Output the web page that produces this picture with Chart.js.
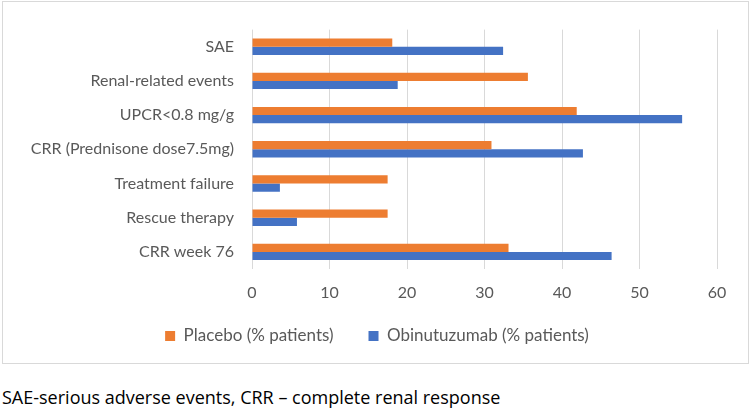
<!DOCTYPE html>
<html>
<head>
<meta charset="utf-8">
<script src="https://cdn.jsdelivr.net/npm/chart.js@4.4.0/dist/chart.umd.min.js"></script>
<style>
  body { margin: 0; background: #fff; width: 751px; height: 409px; position: relative; overflow: hidden; }
  #box { position: absolute; left: 2px; top: 1px; width: 745px; height: 361px; border: 1px solid #d9d9d9; }
  #box canvas { position: absolute; left: 0; top: 0; }
  #note { position: absolute; left: 2px; top: 385px; font-family: "Open Sans", sans-serif; font-size: 18px; color: #000; white-space: nowrap; }
</style>
</head>
<body>
<div id="box"><canvas id="effChart" width="745" height="376"></canvas></div>
<div id="note">SAE-serious adverse events, CRR – complete renal response</div>
<script>
const outcomes = ['SAE', 'Renal-related events', 'UPCR<0.8 mg/g', 'CRR (Prednisone dose7.5mg)', 'Treatment failure', 'Rescue therapy', 'CRR week 76'];
const placebo = [18.1, 35.6, 41.9, 30.9, 17.5, 17.5, 33.1];
const obinutuzumab = [32.4, 18.8, 55.5, 42.7, 3.6, 5.8, 46.4];
const xTicks = [0, 10, 20, 30, 40, 50, 60];

const textFont = { family: 'Lato', size: 16 };
const legendFont = { family: 'Lato', size: 17 };
const grey = '#595959';

// legend padding also sets the gap between items, so move the box up a bit
// and centre it on the whole frame rather than on the padded area
const legendNudge = {
    id: 'legendNudge',
    afterLayout(chart) {
        chart.legend.top -= 23.5;
        chart.legend.bottom -= 23.5;
        chart.legend.left += 17;
        chart.legend.right += 17;
    }
};

const effData = {
    labels: outcomes,
    datasets: [{
        label: 'Placebo (% patients)',
        data: placebo,
        backgroundColor: '#ED7D31',
        barPercentage: 1,
        categoryPercentage: 0.48,
    }, {
        label: 'Obinutuzumab (% patients)',
        data: obinutuzumab,
        backgroundColor: '#4472C4',
        barPercentage: 1,
        categoryPercentage: 0.48,
    }]
};

const effConfig = {
    type: 'bar',
    data: effData,
    plugins: [legendNudge],
    options: {
        indexAxis: 'y',
        responsive: false,
        animation: false,
        layout: {
            padding: { top: 25, right: 31, bottom: 0, left: 0 }
        },
        scales: {
            x: {
                min: 0,
                max: 60,
                afterBuildTicks: function(scale) {
                    scale.ticks = xTicks.map(v => ({ value: v }));
                },
                afterFit: function(scale) {
                    scale.height = 47;
                },
                grid: { color: '#d9d9d9', drawTicks: false },
                border: { display: false },
                ticks: { color: grey, font: textFont, padding: 14.5 }
            },
            y: {
                afterFit: function(scale) {
                    scale.width = 249;
                },
                grid: { display: false, drawTicks: false },
                border: { display: false },
                ticks: { color: grey, font: textFont, padding: 18 }
            }
        },
        plugins: {
            legend: {
                position: 'bottom',
                labels: { color: grey, font: legendFont, boxWidth: 10, boxHeight: 10, padding: 35 }
            },
            tooltip: { enabled: false }
        }
    }
};

new Chart(document.getElementById('effChart').getContext('2d'), effConfig);
</script>
</body>
</html>
